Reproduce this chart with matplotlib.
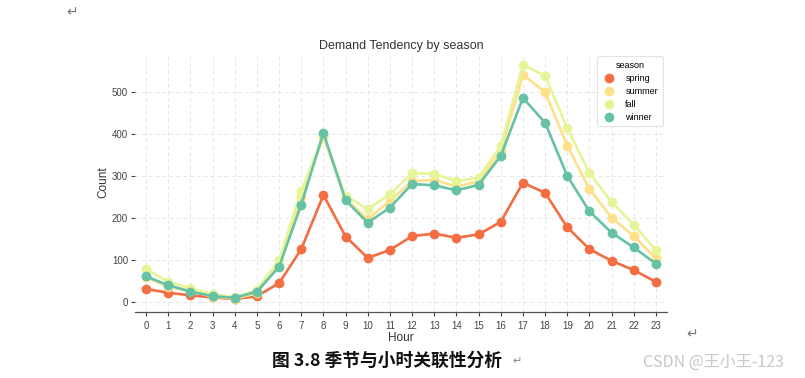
import matplotlib
matplotlib.use("Agg")
import matplotlib.pyplot as plt

hours = list(range(24))
seasons = ["spring", "summer", "fall", "winner"]
spring = [30, 21, 15, 10, 6, 13, 44, 125, 254, 155, 104, 123, 156, 162, 152, 160, 190, 283, 259, 177, 125, 97, 75, 47]
summer = [58, 35, 25, 12, 7, 20, 90, 250, 392, 245, 196, 240, 287, 290, 274, 286, 358, 540, 499, 371, 268, 200, 156, 103]
fall = [78, 47, 32, 18, 10, 28, 99, 264, 396, 252, 220, 256, 306, 304, 287, 295, 371, 564, 538, 413, 306, 237, 183, 122]
winner = [60, 39, 24, 13, 9, 24, 83, 231, 402, 241, 188, 224, 280, 277, 265, 278, 347, 485, 426, 299, 215, 164, 129, 90]
colors = ["#f46d43", "#fee08b", "#e6f598", "#66c2a5"]

plt.rcParams['font.family'] = ['Liberation Sans', 'DejaVu Sans']

fig = plt.figure(figsize=(8.05, 3.78), dpi=100)
ax = fig.add_axes([0.1677, 0.1754, 0.6609, 0.6844])

for name, vals, c in zip(seasons, [spring, summer, fall, winner], colors):
    ax.plot(hours, vals, color=c, lw=1.9, marker='o', ms=6, label=name, zorder=3)

ax.set_xlim(-0.5, 23.5)
ax.set_ylim(-24, 592)
ax.set_xticks(hours)
ax.set_yticks([0, 100, 200, 300, 400, 500])
ax.tick_params(axis='both', labelsize=7, colors='#444444', length=3, width=0.8)
ax.tick_params(axis='y', pad=2)
ax.grid(True, ls=(0, (4, 3)), color='#e6e6e6', lw=0.7, zorder=0)
for s in ['left', 'top', 'right']:
    ax.spines[s].set_visible(False)
ax.spines['bottom'].set_color('#555555')
ax.spines['bottom'].set_linewidth(0.9)
ax.set_title("Demand Tendency by season", fontsize=9, color='#333333', pad=3)
ax.set_xlabel("Hour", fontsize=8.5, color='#333333', labelpad=1)
ax.set_ylabel("Count", fontsize=8.5, color='#333333', labelpad=2)

leg = ax.legend(title="season", loc='upper right', fontsize=6.5, title_fontsize=6.5,
                frameon=True, borderpad=0.5, labelspacing=0.45, handlelength=1.6,
                handletextpad=1.0, bbox_to_anchor=(1.0, 1.005))
leg.get_frame().set_edgecolor('#dddddd')
leg.get_frame().set_linewidth(0.8)
for h in leg.legend_handles:
    h.set_linestyle('')

fig.text(272/805, 1 - 361/378, "图 3.8 季节与小时关联性分析", fontsize=12.8, fontweight='bold',
         family=['Noto Sans CJK SC', 'DejaVu Sans'], va='center', ha='left', color='#111111')
fig.text(512/805, 1 - 361/378, "↵", fontsize=8, family=['DejaVu Sans'], va='center', color='#888888')
fig.text(643/805, 1 - 362/378, "CSDN @王小王-123", fontsize=11.5,
         family=['Noto Sans CJK SC', 'DejaVu Sans'], va='center', ha='left', color='#c8c8c8')
fig.text(66/805, 1 - 12/378, "↵", fontsize=10, family=['DejaVu Sans'], va='center', color='#777777')
fig.text(686/805, 1 - 334/378, "↵", fontsize=10, family=['DejaVu Sans'], va='center', color='#777777')

fig.savefig("out.png", dpi=100)
